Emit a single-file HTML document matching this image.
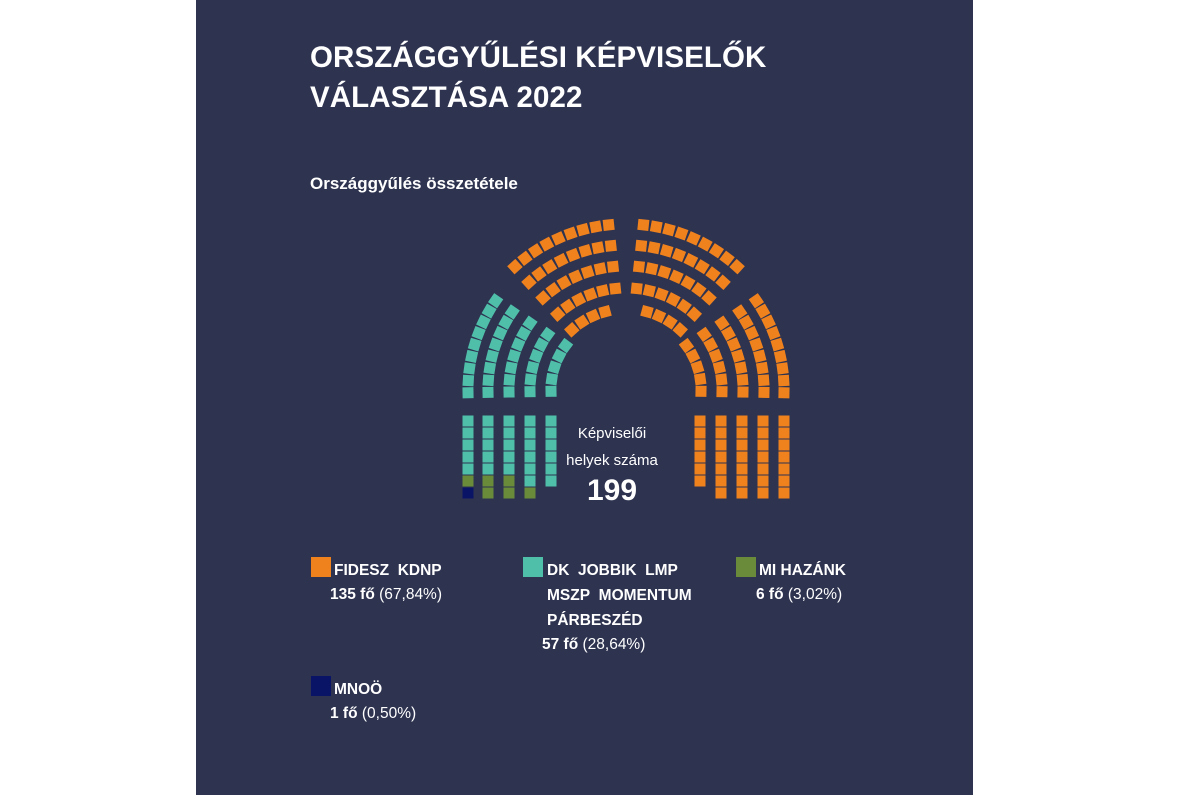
<!DOCTYPE html>
<html><head><meta charset="utf-8">
<style>
body{margin:0;width:1200px;height:795px;background:#fff;overflow:hidden;font-family:"Liberation Sans",sans-serif;}
#p{position:absolute;left:196px;top:0;width:777px;height:795px;background:#2e3350;color:#fff;}
.t{position:absolute;left:114px;top:38px;font-size:29.5px;font-weight:bold;line-height:40px;letter-spacing:0.1px;}
.s{position:absolute;left:114px;top:174px;font-size:17px;font-weight:bold;}
.lg{position:absolute;font-size:15.5px;font-weight:bold;line-height:25px;}
.sw{position:absolute;width:20px;height:20px;}
.pc{font-weight:normal}
svg{position:absolute;left:0;top:0}
</style></head><body>
<div id="p">
<div class="t">ORSZÁGGYŰLÉSI KÉPVISELŐK<br>VÁLASZTÁSA 2022</div>
<div class="s">Országgyűlés összetétele</div>
<svg id="sv" width="777" height="795"></svg>
<div style="position:absolute;left:364px;top:420px;width:104px;text-align:center;font-size:15px;line-height:27px;">Képviselői<br>helyek száma</div>
<div style="position:absolute;left:364px;top:474px;width:104px;text-align:center;font-size:30px;font-weight:bold;">199</div>

<div class="sw" style="left:115px;top:557px;background:#f0821e"></div>
<div class="lg" style="left:138px;top:558px">FIDESZ&nbsp; KDNP</div>
<div class="lg" style="left:134px;top:582px">135 fő <span class="pc">(67,84%)</span></div>

<div class="sw" style="left:327px;top:557px;background:#4fbfaa"></div>
<div class="lg" style="left:351px;top:558px">DK&nbsp; JOBBIK&nbsp; LMP<br>MSZP&nbsp; MOMENTUM<br>PÁRBESZÉD</div>
<div class="lg" style="left:346px;top:632px">57 fő <span class="pc">(28,64%)</span></div>

<div class="sw" style="left:540px;top:557px;background:#6a8c3a"></div>
<div class="lg" style="left:563px;top:558px">MI HAZÁNK</div>
<div class="lg" style="left:560px;top:582px">6 fő <span class="pc">(3,02%)</span></div>

<div class="sw" style="left:115px;top:676px;background:#0a1466"></div>
<div class="lg" style="left:138px;top:677px">MNOÖ</div>
<div class="lg" style="left:134px;top:701px">1 fő <span class="pc">(0,50%)</span></div>
</div>
<script>
var sv=document.getElementById('sv'),h='';
var O='#f0821e',T='#4fbfaa',G='#6a8c3a',N='#0a1466';
var cx=626-196,cy=390;
function rect(x,y,c,a,s){s=s||11;h+='<rect x="'+(x-s/2)+'" y="'+(y-s/2)+'" width="'+s+'" height="'+s+'" fill="'+c+'" transform="rotate('+a+' '+x+' '+y+')"/>';}
var sideR=[75,96,117,138,158], topR=[81,102,124,145,166];
var tc=[5,6,7,8,9], oc=[4,6,7,8,9];
function row(r,a0,a1,n,c,s){for(var i=0;i<n;i++){var a=a0+(a1-a0)*i/(n-1),rad=a*Math.PI/180;rect(cx+r*Math.cos(rad),cy-r*Math.sin(rad),c,90-a,s);}}
for(var i=0;i<5;i++){
 var r=sideR[i],span=(tc[i]-1)*12.2/r*180/Math.PI;
 row(r,181,181-span,tc[i],T);
 row(r,-1,-1+span,tc[i],O);
 var R=topR[i],e=(i==0?105:96);
 row(R,132,e,oc[i],O);
 row(R,180-132,180-e,oc[i],O);
}
var lx=[468,488,509,530,551],rx=[700,721,742,763,784];
var lcols=[[T,T,T,T,T,G,N],[T,T,T,T,T,G,G],[T,T,T,T,T,G,G],[T,T,T,T,T,T,G],[T,T,T,T,T,T]];
lx.forEach(function(x,i){lcols[i].forEach(function(c,k){rect(x-196,421+k*12,c,0);});});
rx.forEach(function(x,i){var n=i==0?6:7;for(var k=0;k<n;k++)rect(x-196,421+k*12,O,0);});
sv.innerHTML=h;
</script>
</body></html>
